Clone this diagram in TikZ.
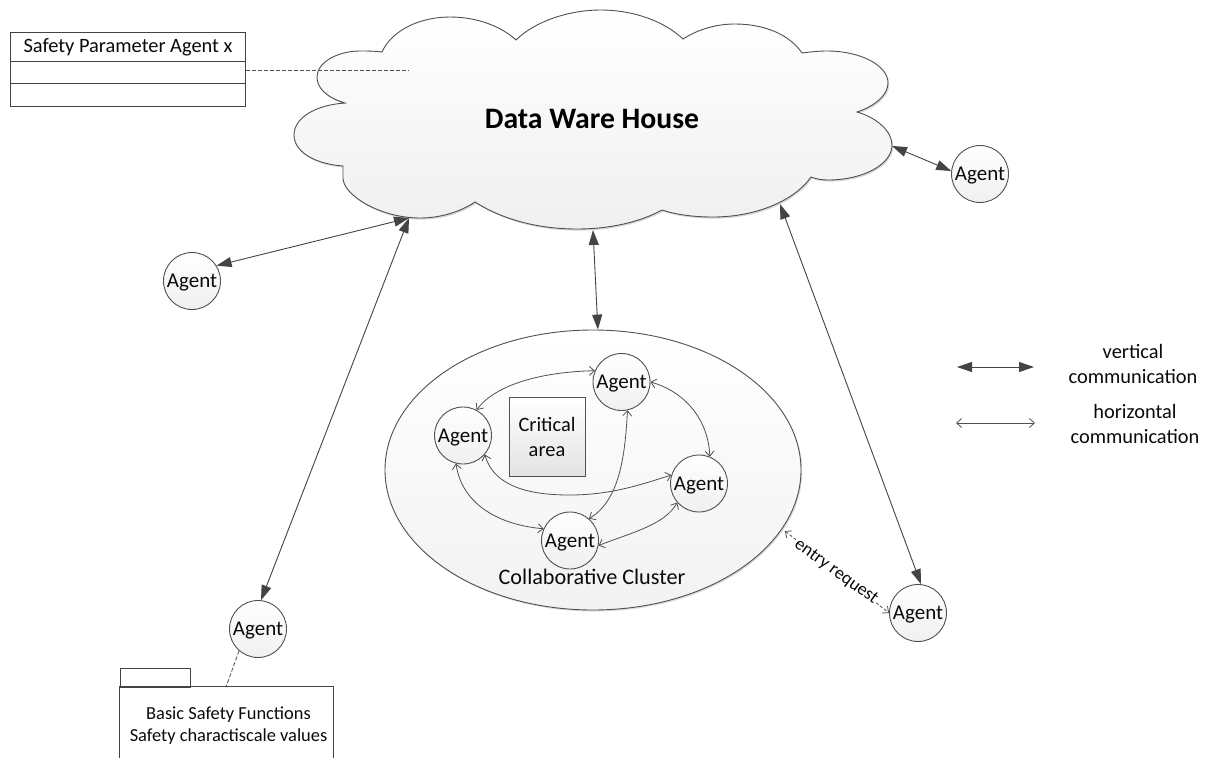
\documentclass[tikz,border=0pt]{standalone}
\usepackage{fontspec}
\setmainfont{Carlito}
\usetikzlibrary{arrows.meta,shapes.geometric}
\definecolor{ln}{HTML}{505050}
\definecolor{ink}{HTML}{0A0A0A}
\tikzset{
  x=1pt,y=-1pt,
  labeltext/.style={text=ink,font=\fontsize{20.4}{25}\selectfont,inner sep=0pt,align=center},
  agent/.style={circle,draw=ln,line width=.9pt,minimum size=57pt,inner sep=0pt,top color=white,bottom color=gray!12,labeltext,font=\fontsize{21}{25}\selectfont,text height=17pt},
  rowbox/.style={rectangle,draw=ln!85!black,line width=1pt,minimum width=235pt,inner sep=0pt,labeltext},
  vert/.style={draw=ln!85!black,line width=.9pt,{Triangle[length=15pt,width=10pt]}-{Triangle[length=15pt,width=10pt]}},
  horiz/.style={draw=ln,line width=.8pt,{Straight Barb[length=5pt,width=9pt]}-{Straight Barb[length=5pt,width=9pt]}},
  dashedlink/.style={draw=ln,line width=.8pt,dash pattern=on 4pt off 2pt},
}
\def\cloudpath{(345,103) .. controls (325,97) and (317,87) .. (317,77) .. controls (317,62) and (338,51) .. (360,51) .. controls (368,51) and (375,51) .. (382,52)
 .. controls (392,30) and (420,17) .. (450,17) .. controls (478,17) and (502,27) .. (516,40)
 .. controls (535,21) and (570,10) .. (600,10) .. controls (635,10) and (665,22) .. (683,39)
 .. controls (697,30) and (715,24) .. (735,24) .. controls (765,24) and (790,35) .. (802,53)
 .. controls (810,52) and (818,51) .. (827,51) .. controls (860,51) and (888,65) .. (888,83) .. controls (888,95) and (875,106) .. (857,112)
 .. controls (878,118) and (892,132) .. (892,145) .. controls (892,165) and (862,180) .. (828,180) .. controls (822,180) and (816,179) .. (811,177)
 .. controls (795,200) and (757,217) .. (713,217) .. controls (695,217) and (677,215) .. (662,210)
 .. controls (640,222) and (610,229) .. (577,229) .. controls (535,229) and (500,218) .. (475,202)
 .. controls (460,212) and (440,218) .. (420,218) .. controls (380,218) and (343,195) .. (343,178) .. controls (343,174) and (343,170) .. (343,166)
 .. controls (315,164) and (294,152) .. (294,135) .. controls (294,118) and (315,105) .. (345,103) -- cycle}
\begin{document}
\begin{tikzpicture}
\path[use as bounding box,fill=white] (0,0) rectangle (1210,758);
% cloud
\fill[black!16,shift={(1.2pt,-1.6pt)}] \cloudpath;
\shade[top color=white,bottom color=gray!12,draw=ln,line width=.9pt] \cloudpath;
\node[inner sep=0pt,text=black,font=\fontsize{29.7}{32}\selectfont\bfseries] (dwh) at (592,119) {Data Ware House};
\coordinate (cloudL) at (409,218);
\coordinate (cloudC) at (593,230);
\coordinate (cloudR) at (780,204);
\coordinate (cloudE) at (892,146);
\coordinate (dashend) at (409,70);
% table
\node[rowbox,minimum height=29pt,text height=16pt] (row1) at (128,46.5) {Safety Parameter Agent x};
\node[rowbox,minimum height=22pt] (row2) at (128,72) {};
\node[rowbox,minimum height=23pt] (row3) at (128,94.5) {};
\draw[dashedlink] (row2.east |- dashend) -- (dashend);
% cluster
\fill[black!14] (594.2,471.5) ellipse [x radius=208, y radius=140];
\node[ellipse,draw=ln,line width=.9pt,minimum width=416pt,minimum height=280pt,inner sep=0pt,top color=white,bottom color=gray!10] (cluster) at (593,470) {};
\node[rectangle,draw=ln,line width=.9pt,minimum width=76pt,minimum height=79pt,inner sep=0pt,top color=white,bottom color=gray!22,labeltext] (crit) at (547,436.5) {Critical\\area};
\node[labeltext,font=\fontsize{22.2}{25}\selectfont] (cluname) at (592,577) {Collaborative Cluster};
% agents
\node[agent] (aE) at (980,174) {Agent};
\node[agent] (aW) at (192,281) {Agent};
\node[agent] (aBL) at (258,629) {Agent};
\node[agent] (aBR) at (918,613) {Agent};
\node[agent] (cT) at (621.5,382) {Agent};
\node[agent] (cL) at (463,435.5) {Agent};
\node[agent] (cR) at (699,483.5) {Agent};
\node[agent] (cB) at (570,540.5) {Agent};
% vertical
\draw[vert] (aW.32) -- (cloudL);
\draw[vert] (aBL.84) -- (cloudL);
\draw[vert] (cloudC) -- (cluster.88);
\draw[vert] (cloudR) -- (aBR.84);
\draw[vert] (cloudE) -- (aE.174);
% horizontal
\draw[horiz] (cT.157) .. controls (540,372) and (495,385) .. (cL.62);
\draw[horiz] (cT.0) .. controls (680,390) and (708,415) .. (cR.68);
\draw[horiz] (cL.-41) .. controls (495,491) and (540,495) .. (570,495) .. controls (610,495) and (640,485) .. (cR.163);
\draw[horiz] (cL.-104) .. controls (462,505) and (500,525) .. (cB.156);
\draw[horiz] (cB.49) .. controls (620,500) and (625,455) .. (cT.-78);
\draw[horiz] (cB.-10) .. controls (630,533) and (665,525) .. (cR.-139);
% entry request
\coordinate (entry) at (785,531);
\draw[horiz,dash pattern=on 3pt off 2pt] (entry) -- (aBR.180);
\node[fill=white,inner sep=1pt,font=\fontsize{18}{20}\selectfont,text=ink,rotate=-36] (erq) at (836,572) {entry request};
% package
\node[rectangle,draw=ln!85!black,line width=1pt,minimum width=70pt,minimum height=19pt,inner sep=0pt] (tab) at (155,677.5) {};
\node[rectangle,minimum width=213pt,minimum height=71pt,inner sep=0pt] (pkg) at (226.5,722.5) {};
\draw[draw=ln!85!black,line width=1pt] (pkg.south west) -- (pkg.north west) -- (pkg.north east) -- (pkg.south east);
\node[labeltext,font=\fontsize{18.4}{22}\selectfont] (pkgtext) at (228.5,726) {Basic Safety Functions\\Safety charactiscale values};
\coordinate (pkgdash) at (226,687);
\draw[dashedlink] (aBL.-131) -- (pkgdash);
% legend
\coordinate (lv1) at (957,367); \coordinate (lv2) at (1034,367);
\coordinate (lh1) at (956,423); \coordinate (lh2) at (1035,423);
\draw[vert] (lv1) -- (lv2);
\draw[horiz] (lh1) -- (lh2);
\node[labeltext] (ltxt1) at (1133,363.5) {vertical\\communication};
\node[labeltext] (ltxt2) at (1135,423.5) {horizontal\\communication};
\end{tikzpicture}
\end{document}
